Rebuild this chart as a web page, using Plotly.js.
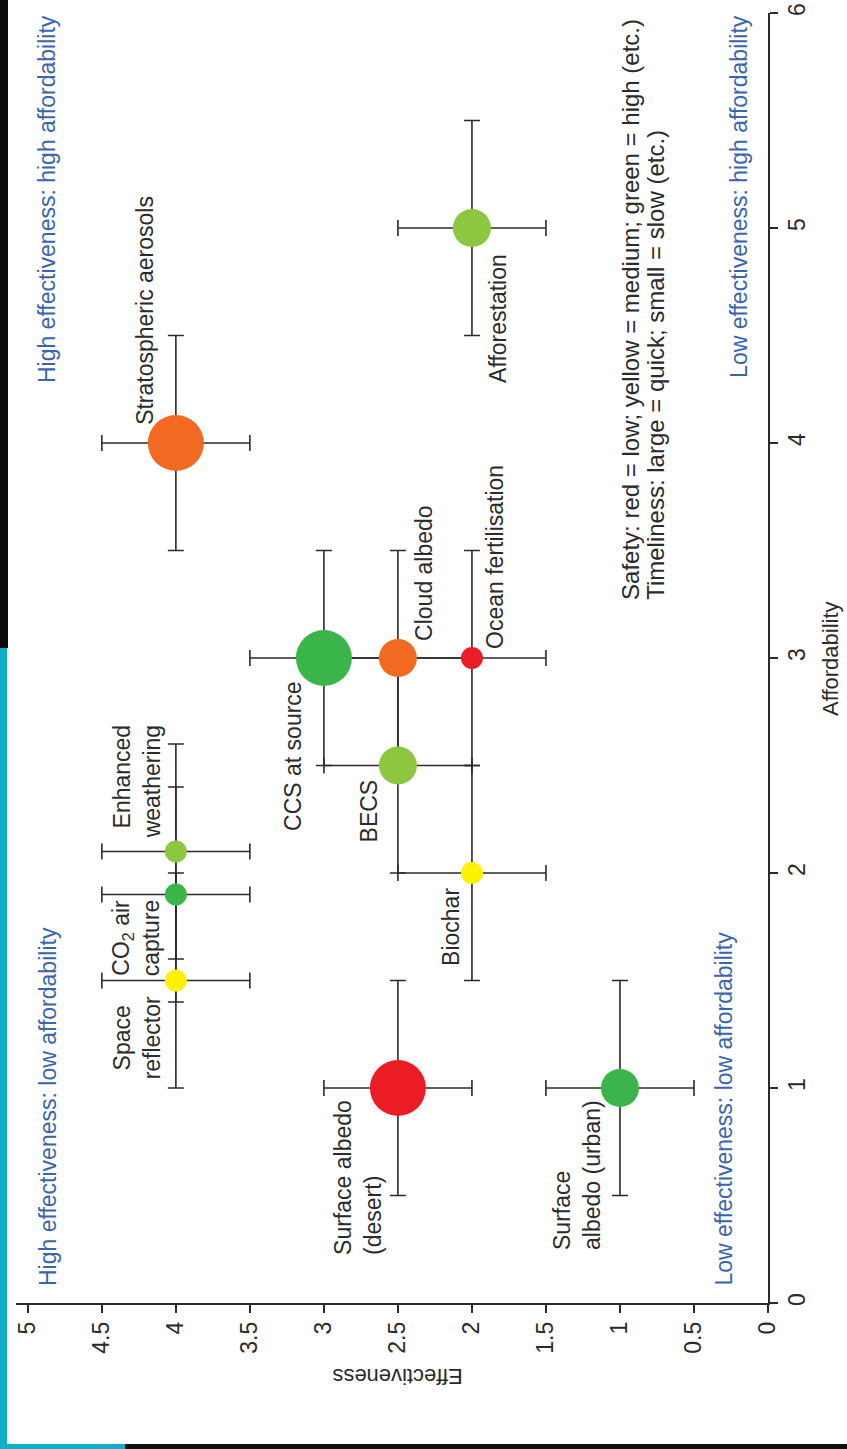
<!DOCTYPE html>
<html>
<head>
<meta charset="utf-8">
<script src="https://cdn.plot.ly/plotly-3.0.1.min.js"></script>
<style>
  html, body { margin: 0; padding: 0; background: #ffffff; }
  #chart { width: 847px; height: 1449px; }
  .deco { position: absolute; pointer-events: none; z-index: 10; }
</style>
</head>
<body>
<div id="chart"></div>
<div class="deco" style="left:0;top:0;width:8px;height:648px;background:#0b0b0b;"></div>
<div class="deco" style="left:0;top:648px;width:7px;height:801px;background:#12adc6;"></div>
<div class="deco" style="left:0;top:1444px;width:125px;height:5px;background:#12adc6;"></div>
<div class="deco" style="left:125px;top:1444px;width:722px;height:5px;background:#111111;"></div>
<script>
// ---------------- data ----------------
var methods = ['Afforestation', 'Stratospheric aerosols', 'CCS at source', 'Cloud albedo',
  'Ocean fertilisation', 'BECS', 'Biochar', 'Enhanced weathering', 'CO2 air capture',
  'Space reflector', 'Surface albedo (desert)', 'Surface albedo (urban)'];
var labelText = ['Afforestation', 'Stratospheric aerosols', 'CCS at source', 'Cloud albedo',
  'Ocean fertilisation', 'BECS', 'Biochar', 'Enhanced<br>weathering', 'CO<sub>2</sub> air<br>capture',
  'Space<br>reflector', 'Surface albedo<br>(desert)', 'Surface<br>albedo (urban)'];
var affordability = [5, 4, 3, 3, 3, 2.5, 2, 2.1, 1.9, 1.5, 1, 1];
var effectiveness = [2, 4, 3, 2.5, 2, 2.5, 2, 4, 4, 4, 2.5, 1];
var affordabilityErr = [0.5, 0.5, 0.5, 0.5, 0.5, 0.5, 0.5, 0.5, 0.5, 0.5, 0.5, 0.5];
var effectivenessErr = [0.5, 0.5, 0.5, 0.5, 0.5, 0.5, 0.5, 0.5, 0.5, 0.5, 0.5, 0.5];
var safety = ['medium-high', 'medium-low', 'high', 'medium-low', 'low', 'medium-high', 'medium',
  'medium-high', 'high', 'medium', 'low', 'high'];
var timeliness = ['medium', 'quick', 'quick', 'medium', 'slow', 'medium', 'slow', 'slow', 'slow',
  'slow', 'quick', 'medium'];
var affTicks = [0, 1, 2, 3, 4, 5, 6];
var affTickText = ['0', '1', '2', '3', '4', '5', '6'];
var effTicks = [0, 0.5, 1, 1.5, 2, 2.5, 3, 3.5, 4, 4.5, 5];
var effTickText = ['0', '0.5', '1', '1.5', '2', '2.5', '3', '3.5', '4', '4.5', '5'];
var quadrantText = ['High effectiveness: high affordability', 'High effectiveness: low affordability',
  'Low effectiveness: low affordability', 'Low effectiveness: high affordability'];
var keyLines = ['Safety: red = low; yellow = medium; green = high (etc.)',
  'Timeliness: large = quick; small = slow (etc.)'];

// ---------------- styles ----------------
var safetyColor = { 'low': '#ec1c24', 'medium-low': '#f26a21', 'medium': '#fff200',
  'medium-high': '#8dc63f', 'high': '#3ab54a' };
var timelinessSize = { 'quick': 56, 'medium': 38, 'slow': 22 };
// label offsets in pixels from the point, and line alignment
var labelStyle = [
  { dx: 26, dy: -90, align: 'center' },
  { dx: -31, dy: 133, align: 'center' },
  { dx: -31, dy: -98, align: 'center' },
  { dx: 26, dy: 85, align: 'center' },
  { dx: 23, dy: 101, align: 'center' },
  { dx: -29, dy: -45, align: 'center' },
  { dx: -21, dy: -54, align: 'center' },
  { dx: -39, dy: 70, align: 'right' },
  { dx: -40, dy: -43, align: 'center' },
  { dx: -39, dy: -57, align: 'center' },
  { dx: -40, dy: -89, align: 'left' },
  { dx: -43, dy: -87, align: 'left' }
];
var FONT = '"Liberation Sans", Arial, Helvetica, sans-serif';
var INK = '#2b2b2b';
var BLUE = '#3a64ad';

var trace = {
  type: 'scatter',
  mode: 'markers',
  x: effectiveness,
  y: affordability,
  text: methods,
  marker: {
    color: safety.map(function (s) { return safetyColor[s]; }),
    size: timeliness.map(function (t) { return timelinessSize[t]; }),
    line: { width: 0 },
    opacity: 1
  },
  error_x: { type: 'data', array: effectivenessErr, visible: true, color: INK, thickness: 1.6, width: 8 },
  error_y: { type: 'data', array: affordabilityErr, visible: true, color: INK, thickness: 1.6, width: 8 },
  cliponaxis: false,
  hoverinfo: 'text'
};

var annotations = [];
for (var i = 0; i < methods.length; i++) {
  annotations.push({
    xref: 'x', yref: 'y', x: effectiveness[i], y: affordability[i],
    text: labelText[i], showarrow: false, textangle: -90,
    xanchor: 'center', yanchor: 'middle',
    xshift: labelStyle[i].dx, yshift: labelStyle[i].dy,
    align: labelStyle[i].align,
    font: { family: FONT, size: 23, color: INK }
  });
}
// quadrant captions
var quadX = [4.87, 4.86, 0.30, 0.20];
var quadAnchor = ['top', 'bottom', 'bottom', 'top'];
var quadY = [6, 0.07, 0.07, 6];
for (var q = 0; q < quadrantText.length; q++) {
  annotations.push({
    xref: 'x', yref: 'y', x: quadX[q], y: quadY[q], text: quadrantText[q],
    showarrow: false, textangle: -90, xanchor: 'center', yanchor: quadAnchor[q],
    font: { family: FONT, size: 23, color: BLUE }
  });
}
// key text (two lines)
var keyX = [0.93, 0.765];
for (var k = 0; k < keyLines.length; k++) {
  annotations.push({
    xref: 'x', yref: 'y', x: keyX[k], y: 3.26, text: keyLines[k], showarrow: false,
    textangle: -90, xanchor: 'center', yanchor: 'bottom',
    font: { family: FONT, size: 24, color: INK }
  });
}
// axis titles
annotations.push({
  xref: 'paper', yref: 'paper', x: 1.0824, y: 0.5, text: 'Affordability',
  showarrow: false, textangle: -90, xanchor: 'center', yanchor: 'middle',
  font: { family: FONT, size: 22, color: INK }
});
annotations.push({
  xref: 'x', yref: 'paper', x: 2.5, y: -0.0574, text: 'Effectiveness',
  showarrow: false, textangle: 180, xanchor: 'center', yanchor: 'middle',
  font: { family: FONT, size: 22, color: INK }
});

var layout = {
  width: 847, height: 1449,
  margin: { l: 16, r: 79, t: 13, b: 146, pad: 0 },
  paper_bgcolor: '#ffffff', plot_bgcolor: '#ffffff',
  showlegend: false,
  font: { family: FONT, color: INK },
  xaxis: {
    range: [5.08, 0], tickmode: 'array', tickvals: effTicks, ticktext: effTickText,
    tickangle: -90, ticks: 'outside', ticklen: 8, tickwidth: 1.5, tickcolor: INK,
    showline: true, linecolor: INK, linewidth: 1.6, showgrid: false, zeroline: false,
    tickfont: { family: FONT, size: 23, color: INK }, fixedrange: true
  },
  yaxis: {
    range: [0, 6], side: 'right', tickmode: 'array', tickvals: affTicks, ticktext: affTickText,
    tickangle: -90, ticks: 'outside', ticklen: 8, tickwidth: 1.5, tickcolor: INK,
    showline: true, linecolor: INK, linewidth: 1.6, showgrid: false, zeroline: false,
    tickfont: { family: FONT, size: 23, color: INK }, fixedrange: true
  },
  annotations: annotations
};

Plotly.newPlot('chart', [trace], layout, { displayModeBar: false, staticPlot: true });
</script>
</body>
</html>
